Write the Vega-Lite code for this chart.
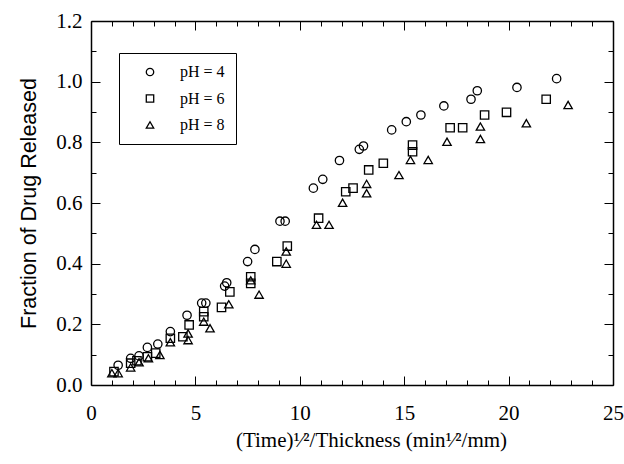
{
  "$schema": "https://vega.github.io/schema/vega-lite/v6.json",
  "width": 522,
  "height": 364,
  "autosize": {"type": "none"},
  "padding": {"left": 91, "top": 21, "right": 11, "bottom": 79},
  "background": "white",
  "config": {"view": {"stroke": null}},
  "data": {"values": [
    {"x": 1.3, "y": 0.065, "pH": "pH = 4"},
    {"x": 1.9, "y": 0.088, "pH": "pH = 4"},
    {"x": 2.3, "y": 0.096, "pH": "pH = 4"},
    {"x": 2.7, "y": 0.124, "pH": "pH = 4"},
    {"x": 3.2, "y": 0.135, "pH": "pH = 4"},
    {"x": 3.8, "y": 0.176, "pH": "pH = 4"},
    {"x": 4.6, "y": 0.23, "pH": "pH = 4"},
    {"x": 5.3, "y": 0.27, "pH": "pH = 4"},
    {"x": 5.5, "y": 0.27, "pH": "pH = 4"},
    {"x": 6.4, "y": 0.326, "pH": "pH = 4"},
    {"x": 6.5, "y": 0.337, "pH": "pH = 4"},
    {"x": 7.5, "y": 0.407, "pH": "pH = 4"},
    {"x": 7.85, "y": 0.447, "pH": "pH = 4"},
    {"x": 9.05, "y": 0.54, "pH": "pH = 4"},
    {"x": 9.3, "y": 0.54, "pH": "pH = 4"},
    {"x": 10.65, "y": 0.649, "pH": "pH = 4"},
    {"x": 11.1, "y": 0.678, "pH": "pH = 4"},
    {"x": 11.9, "y": 0.74, "pH": "pH = 4"},
    {"x": 12.85, "y": 0.777, "pH": "pH = 4"},
    {"x": 13.05, "y": 0.788, "pH": "pH = 4"},
    {"x": 14.4, "y": 0.841, "pH": "pH = 4"},
    {"x": 15.1, "y": 0.868, "pH": "pH = 4"},
    {"x": 15.8, "y": 0.89, "pH": "pH = 4"},
    {"x": 16.9, "y": 0.92, "pH": "pH = 4"},
    {"x": 18.2, "y": 0.942, "pH": "pH = 4"},
    {"x": 18.5, "y": 0.97, "pH": "pH = 4"},
    {"x": 20.4, "y": 0.981, "pH": "pH = 4"},
    {"x": 22.3, "y": 1.01, "pH": "pH = 4"},
    {"x": 1.1, "y": 0.044, "pH": "pH = 6"},
    {"x": 1.9, "y": 0.072, "pH": "pH = 6"},
    {"x": 2.2, "y": 0.08, "pH": "pH = 6"},
    {"x": 2.7, "y": 0.093, "pH": "pH = 6"},
    {"x": 3.1, "y": 0.105, "pH": "pH = 6"},
    {"x": 3.8, "y": 0.154, "pH": "pH = 6"},
    {"x": 4.4, "y": 0.159, "pH": "pH = 6"},
    {"x": 4.7, "y": 0.198, "pH": "pH = 6"},
    {"x": 5.4, "y": 0.242, "pH": "pH = 6"},
    {"x": 5.4, "y": 0.225, "pH": "pH = 6"},
    {"x": 6.25, "y": 0.256, "pH": "pH = 6"},
    {"x": 6.65, "y": 0.307, "pH": "pH = 6"},
    {"x": 7.65, "y": 0.357, "pH": "pH = 6"},
    {"x": 7.65, "y": 0.335, "pH": "pH = 6"},
    {"x": 8.9, "y": 0.407, "pH": "pH = 6"},
    {"x": 9.4, "y": 0.458, "pH": "pH = 6"},
    {"x": 10.9, "y": 0.55, "pH": "pH = 6"},
    {"x": 12.2, "y": 0.637, "pH": "pH = 6"},
    {"x": 12.55, "y": 0.649, "pH": "pH = 6"},
    {"x": 13.3, "y": 0.709, "pH": "pH = 6"},
    {"x": 14.0, "y": 0.731, "pH": "pH = 6"},
    {"x": 15.4, "y": 0.791, "pH": "pH = 6"},
    {"x": 15.4, "y": 0.769, "pH": "pH = 6"},
    {"x": 17.2, "y": 0.848, "pH": "pH = 6"},
    {"x": 17.8, "y": 0.848, "pH": "pH = 6"},
    {"x": 18.85, "y": 0.89, "pH": "pH = 6"},
    {"x": 19.9, "y": 0.899, "pH": "pH = 6"},
    {"x": 21.8, "y": 0.942, "pH": "pH = 6"},
    {"x": 1.0, "y": 0.039, "pH": "pH = 8"},
    {"x": 1.3, "y": 0.039, "pH": "pH = 8"},
    {"x": 1.9, "y": 0.058, "pH": "pH = 8"},
    {"x": 2.3, "y": 0.075, "pH": "pH = 8"},
    {"x": 2.75, "y": 0.088, "pH": "pH = 8"},
    {"x": 3.3, "y": 0.099, "pH": "pH = 8"},
    {"x": 3.8, "y": 0.141, "pH": "pH = 8"},
    {"x": 4.65, "y": 0.17, "pH": "pH = 8"},
    {"x": 4.65, "y": 0.148, "pH": "pH = 8"},
    {"x": 5.4, "y": 0.209, "pH": "pH = 8"},
    {"x": 5.7, "y": 0.187, "pH": "pH = 8"},
    {"x": 6.6, "y": 0.266, "pH": "pH = 8"},
    {"x": 7.65, "y": 0.345, "pH": "pH = 8"},
    {"x": 8.05, "y": 0.298, "pH": "pH = 8"},
    {"x": 9.35, "y": 0.44, "pH": "pH = 8"},
    {"x": 9.35, "y": 0.4, "pH": "pH = 8"},
    {"x": 10.8, "y": 0.528, "pH": "pH = 8"},
    {"x": 11.4, "y": 0.528, "pH": "pH = 8"},
    {"x": 12.05, "y": 0.601, "pH": "pH = 8"},
    {"x": 13.2, "y": 0.663, "pH": "pH = 8"},
    {"x": 13.2, "y": 0.632, "pH": "pH = 8"},
    {"x": 14.75, "y": 0.692, "pH": "pH = 8"},
    {"x": 15.3, "y": 0.742, "pH": "pH = 8"},
    {"x": 16.15, "y": 0.742, "pH": "pH = 8"},
    {"x": 17.05, "y": 0.802, "pH": "pH = 8"},
    {"x": 18.65, "y": 0.852, "pH": "pH = 8"},
    {"x": 18.65, "y": 0.811, "pH": "pH = 8"},
    {"x": 20.85, "y": 0.863, "pH": "pH = 8"},
    {"x": 22.85, "y": 0.923, "pH": "pH = 8"}
  ]},
  "layer": [
    {
      "mark": {"type": "point", "filled": false, "color": "black", "strokeWidth": 1.3, "size": 70, "opacity": 1},
      "encoding": {
        "x": {
          "field": "x", "type": "quantitative",
          "scale": {"domain": [0, 25], "nice": false, "zero": false},
          "axis": {
            "orient": "bottom",
            "values": [0,1,2,3,4,5,6,7,8,9,10,11,12,13,14,15,16,17,18,19,20,21,22,23,24,25],
            "format": "d",
            "labelExpr": "datum.value % 5 === 0 ? datum.label : ''",
            "tickSize": {"condition": {"test": "datum.value % 5 === 0", "value": -9}, "value": -5},
            "tickColor": "black", "tickWidth": 1,
            "domainColor": "black", "domainWidth": 1.5,
            "grid": false,
            "labelFont": "Liberation Serif", "labelFontSize": 21, "labelColor": "black", "labelPadding": 26,
            "labelFlush": false, "labelOverlap": false,
            "title": "(Time)¹⁄²/Thickness  (min¹⁄²/mm)",
            "titleFont": "Liberation Serif", "titleFontSize": 21, "titleFontWeight": "normal", "titleColor": "black",
            "titleX": 280, "titleY": 44, "titleAlign": "center", "titleAnchor": null
          }
        },
        "y": {
          "field": "y", "type": "quantitative",
          "scale": {"domain": [0, 1.2], "nice": false},
          "axis": {
            "orient": "left",
            "values": [0,0.1,0.2,0.3,0.4,0.5,0.6,0.7,0.8,0.9,1.0,1.1,1.2],
            "format": ".1f",
            "labelExpr": "round(datum.value * 10) % 2 === 0 ? datum.label : ''",
            "tickSize": {"condition": {"test": "round(datum.value * 10) % 2 === 0", "value": -9}, "value": -5},
            "tickColor": "black", "tickWidth": 1,
            "domainColor": "black", "domainWidth": 1.5,
            "grid": false,
            "labelFont": "Liberation Serif", "labelFontSize": 21, "labelColor": "black", "labelPadding": 18,
            "labelFlush": false, "labelOverlap": false,
            "title": "Fraction of Drug Released",
            "titleFont": "Liberation Sans", "titleFontSize": 21.5, "titleFontWeight": "normal", "titleColor": "black", "titlePadding": 15
          }
        },
        "shape": {
          "field": "pH", "type": "nominal",
          "scale": {"domain": ["pH = 4", "pH = 6", "pH = 8"], "range": ["circle", "square", "triangle-up"]},
          "legend": {
            "orient": "none", "legendX": 28, "legendY": 32, "title": null,
            "strokeColor": "black", "padding": 11,
            "labelFont": "Liberation Serif", "labelFontSize": 16, "labelColor": "black",
            "labelOffset": 22, "rowPadding": 10.5, "symbolOffset": 12,
            "symbolSize": 55, "symbolStrokeWidth": 1.3, "symbolStrokeColor": "black"
          }
        }
      }
    },
    {
      "mark": {"type": "point", "opacity": 0},
      "encoding": {
        "x": {
          "field": "x", "type": "quantitative",
          "axis": {
            "orient": "top",
            "values": [0,1,2,3,4,5,6,7,8,9,10,11,12,13,14,15,16,17,18,19,20,21,22,23,24,25],
            "labels": false, "title": null, "grid": false,
            "tickSize": {"condition": {"test": "datum.value % 5 === 0", "value": -9}, "value": -5},
            "tickColor": "black", "domainColor": "black", "domainWidth": 1.5
          }
        },
        "y": {
          "field": "y", "type": "quantitative",
          "axis": {
            "orient": "right",
            "values": [0,0.1,0.2,0.3,0.4,0.5,0.6,0.7,0.8,0.9,1.0,1.1,1.2],
            "labels": false, "title": null, "grid": false,
            "tickSize": {"condition": {"test": "round(datum.value * 10) % 2 === 0", "value": -9}, "value": -5},
            "tickColor": "black", "domainColor": "black", "domainWidth": 1.5
          }
        }
      }
    }
  ],
  "resolve": {"axis": {"x": "independent", "y": "independent"}}
}
